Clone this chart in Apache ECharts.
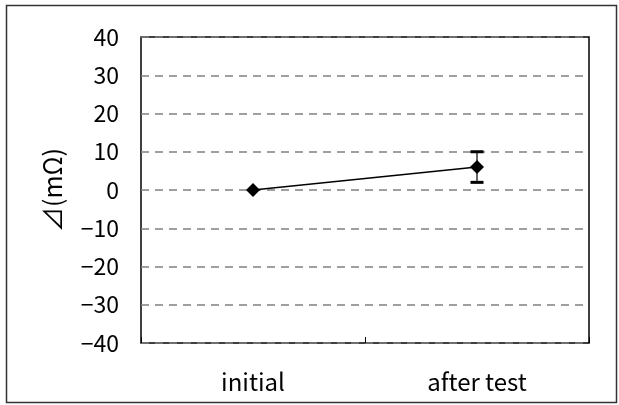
<!DOCTYPE html>
<html>
<head>
<meta charset="utf-8">
<script src="https://cdn.jsdelivr.net/npm/echarts@6/dist/echarts.min.js"></script>
<style>
  html, body { margin: 0; padding: 0; background: #fff; }
  #chart { width: 619px; height: 405px; }
</style>
</head>
<body>
<div id="chart"></div>
<script>
// Resistance change before and after the test, with error range
const categories = ['initial', 'after test'];
const meanValues = [0, 6];
const errLow = [null, 2];
const errHigh = [null, 10];
const yTicks = { min: -40, max: 40, interval: 10 };

const FONT = '"Noto Sans CJK JP", "DejaVu Sans", sans-serif';

const chart = echarts.init(document.getElementById('chart'));

const errorData = categories
  .map((c, i) => [i, errLow[i], errHigh[i]])
  .filter(d => d[1] !== null);

chart.setOption({
  animation: false,
  backgroundColor: '#fff',
  graphic: [{
    type: 'rect',
    left: 4, top: 3,
    shape: { width: 610, height: 397 },
    style: { fill: 'none', stroke: '#333', lineWidth: 1.5 },
    z: -1
  }],
  grid: { left: 141, right: 30, top: 37, bottom: 62, show: true, borderColor: '#000', borderWidth: 1.5, backgroundColor: 'transparent' },
  xAxis: {
    type: 'category',
    data: categories,
    boundaryGap: true,
    axisLine: { show: false, onZero: false },
    axisTick: { show: true, inside: true, length: 6, lineStyle: { color: '#000', width: 1 } },
    axisLabel: { color: '#000', fontFamily: FONT, fontSize: 24, margin: 27 },
    splitLine: { show: false }
  },
  yAxis: {
    type: 'value',
    min: yTicks.min, max: yTicks.max, interval: yTicks.interval,
    name: '⊿(mΩ)',
    nameLocation: 'middle',
    nameGap: 76,
    nameRotate: 90,
    nameTextStyle: { color: '#000', fontFamily: FONT, fontSize: 25 },
    axisLine: { show: false },
    axisTick: { show: false },
    axisLabel: {
      color: '#000', fontFamily: FONT, fontSize: 23, margin: 22,
      formatter: v => (v < 0 ? '\u2212' + Math.abs(v) : String(v))
    },
    splitLine: {
      show: true,
      lineStyle: { color: '#808080', width: 1.5, type: [8, 6] }
    }
  },
  series: [
    {
      type: 'line',
      data: meanValues,
      symbol: 'diamond',
      symbolSize: 14,
      itemStyle: { color: '#000' },
      lineStyle: { color: '#000', width: 1.5 },
      z: 3
    },
    {
      type: 'custom',
      data: errorData,
      renderItem: function (params, api) {
        const x = api.value(0);
        const lo = api.coord([x, api.value(1)]);
        const hi = api.coord([x, api.value(2)]);
        const w = 6.5;
        return {
          type: 'group',
          children: [
            { type: 'line', shape: { x1: lo[0], y1: lo[1], x2: hi[0], y2: hi[1] }, style: { stroke: '#000', lineWidth: 1.2 } },
            { type: 'line', shape: { x1: lo[0] - w, y1: lo[1], x2: lo[0] + w, y2: lo[1] }, style: { stroke: '#000', lineWidth: 3 } },
            { type: 'line', shape: { x1: hi[0] - w, y1: hi[1], x2: hi[0] + w, y2: hi[1] }, style: { stroke: '#000', lineWidth: 3 } }
          ]
        };
      },
      z: 2
    }
  ]
});
</script>
</body>
</html>
